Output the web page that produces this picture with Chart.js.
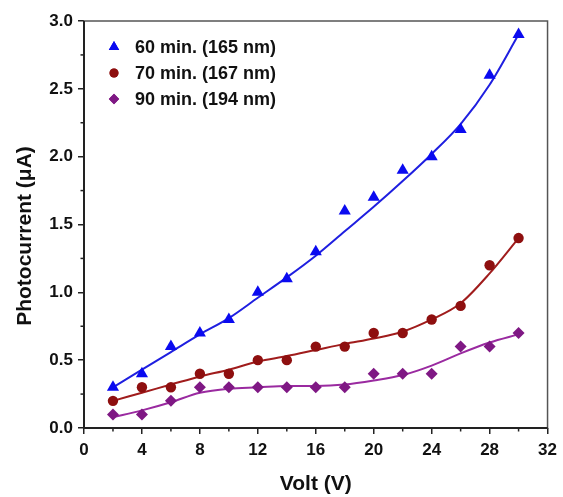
<!DOCTYPE html>
<html><head><meta charset="utf-8">
<script src="https://cdn.jsdelivr.net/npm/chart.js@4/dist/chart.umd.min.js"></script>
<style>html,body{margin:0;padding:0;background:#fff;}canvas{display:block;}</style>
</head><body>
<canvas id="c" width="563" height="497"></canvas>
<script>
const volts = [2,4,6,8,10,12,14,16,18,20,22,24,26,28,30];
const s60 = [0.3,0.4,0.6,0.7,0.8,1.0,1.1,1.3,1.6,1.7,1.9,2.0,2.2,2.6,2.9];
const s70 = [0.2,0.3,0.3,0.4,0.4,0.5,0.5,0.6,0.6,0.7,0.7,0.8,0.9,1.2,1.4];
const s90 = [0.1,0.1,0.2,0.3,0.3,0.3,0.3,0.3,0.3,0.4,0.4,0.4,0.6,0.6,0.7];
const fit60 = [0.30,0.43,0.56,0.69,0.81,0.96,1.11,1.27,1.45,1.63,1.82,2.02,2.24,2.53,2.90];
const fit70 = [0.20,0.26,0.32,0.38,0.43,0.49,0.53,0.575,0.62,0.66,0.71,0.80,0.92,1.14,1.40];
const fit90 = [0.08,0.13,0.19,0.26,0.29,0.30,0.31,0.31,0.32,0.35,0.39,0.46,0.55,0.63,0.69];
const labels = ['60 min. (165 nm)','70 min. (167 nm)','90 min. (194 nm)'];
const xTicks = [0,4,8,12,16,20,24,28,32];
const yTicks = [0.0,0.5,1.0,1.5,2.0,2.5,3.0];
const yTitle = 'Photocurrent (μA)';
const xTitle = 'Volt (V)';

const FONT = "Arial, 'Liberation Sans', sans-serif";
const cols = ['#0a0af0','#8e0f0f','#7f1884'];
const lineCols = ['#1f1fe0','#a01c1c','#9a2aa0'];
const styles = ['triangle','circle','rectRot'];
const radii = [7,5.2,6];
const legRadii = [6,4.5,5.2];

const pts = a => volts.map((v,i)=>({x:v,y:a[i]}));
const series = [s60,s70,s90], fits=[fit60,fit70,fit90];
const datasets = [];
fits.forEach((f,i)=>datasets.push({type:'line',data:pts(f),borderColor:lineCols[i],borderWidth:2,pointRadius:0,cubicInterpolationMode:'monotone',fill:false,order:2}));
series.forEach((s,i)=>datasets.push({type:'scatter',label:labels[i],data:pts(s),pointStyle:styles[i],pointRadius:radii[i],backgroundColor:cols[i],borderColor:cols[i],borderWidth:0,order:1}));

const extras = {
  id:'extras',
  afterDraw(chart){
    const ctx=chart.ctx, a=chart.chartArea, xs=chart.scales.x, ys=chart.scales.y;
    ctx.save();
    ctx.strokeStyle='#555'; ctx.lineWidth=1.5;
    ctx.strokeRect(a.left,a.top,a.right-a.left,a.bottom-a.top);
    ctx.strokeStyle='#222'; ctx.lineWidth=2;
    ctx.beginPath(); ctx.moveTo(a.left,a.top); ctx.lineTo(a.left,a.bottom); ctx.lineTo(a.right,a.bottom); ctx.stroke();
    ctx.lineWidth=1.5; ctx.strokeStyle='#222';
    for(let v=2; v<32; v+=4){const px=xs.getPixelForValue(v);ctx.beginPath();ctx.moveTo(px,a.bottom);ctx.lineTo(px,a.bottom+3.5);ctx.stroke();}
    for(let v=0.25; v<3; v+=0.5){const py=ys.getPixelForValue(v);ctx.beginPath();ctx.moveTo(a.left,py);ctx.lineTo(a.left-3.5,py);ctx.stroke();}
    // y title
    ctx.save();
    ctx.translate(25,236); ctx.rotate(-Math.PI/2);
    ctx.font='bold 21px '+FONT; ctx.fillStyle='#111'; ctx.textAlign='center'; ctx.textBaseline='middle';
    ctx.fillText(yTitle,0,0);
    ctx.restore();
    // legend
    ctx.font='bold 18px '+FONT; ctx.textBaseline='middle'; ctx.textAlign='left';
    labels.forEach((l,i)=>{
      const y=a.top+26+i*26;
      ctx.fillStyle=cols[i];
      Chart.helpers.drawPoint(ctx,{pointStyle:styles[i],radius:legRadii[i],borderWidth:0,rotation:0},a.left+30,y);
      ctx.fill();
      ctx.fillStyle='#111';
      ctx.fillText(l,a.left+51,y+1);
    });
    ctx.restore();
  }
};

new Chart(document.getElementById('c'),{
  data:{datasets},
  options:{
    responsive:false,animation:false,
    layout:{padding:{top:21,right:15,left:0,bottom:0}},
    plugins:{legend:{display:false},tooltip:{enabled:false}},
    scales:{
      x:{type:'linear',min:0,max:32,
        afterBuildTicks:s=>{s.ticks=xTicks.map(v=>({value:v}));},
        afterFit:s=>{s.height=69;},
        grid:{display:true,drawOnChartArea:false,tickLength:6,color:'#222',lineWidth:1.5},
        border:{display:false},
        ticks:{font:{family:FONT,size:17,weight:'bold'},color:'#111',padding:6,maxRotation:0},
        title:{display:true,text:xTitle,font:{family:FONT,size:21,weight:'bold'},color:'#111',padding:{top:0,bottom:0}}
      },
      y:{type:'linear',min:0,max:3,
        afterBuildTicks:s=>{s.ticks=yTicks.map(v=>({value:v}));},
        afterFit:s=>{s.width=84;},
        grid:{display:true,drawOnChartArea:false,tickLength:6,color:'#222',lineWidth:1.5},
        border:{display:false},
        ticks:{font:{family:FONT,size:17,weight:'bold'},color:'#111',padding:5,callback:v=>Number(v).toFixed(1)},
        title:{display:false}
      }
    }
  },
  plugins:[extras]
});
</script>
</body></html>
